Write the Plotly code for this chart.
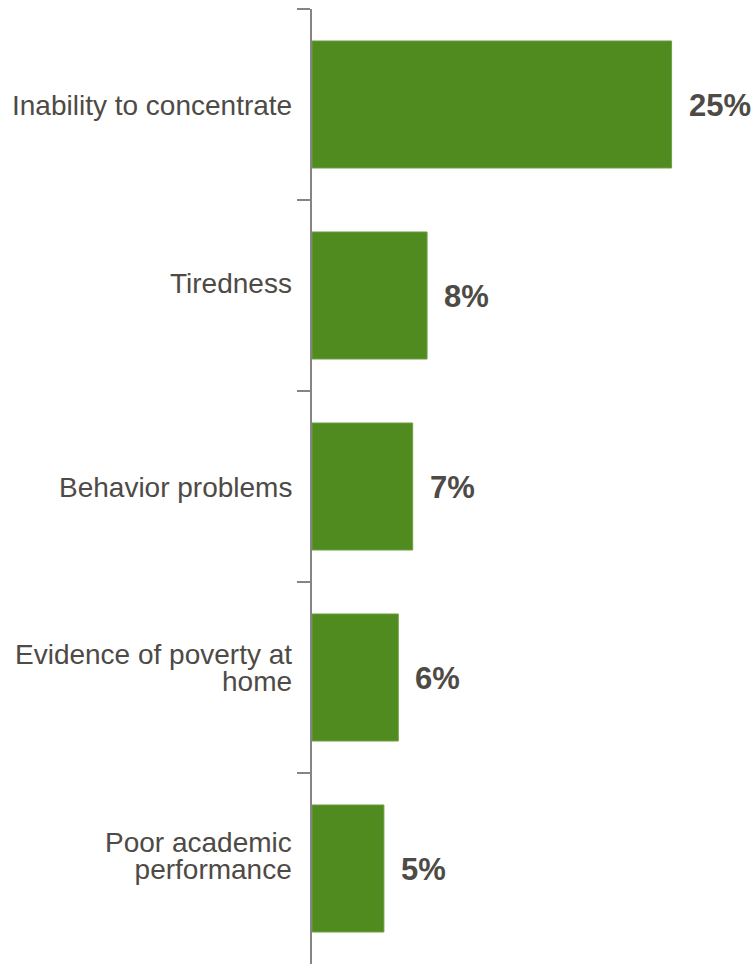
import plotly.graph_objects as go

categories = ["Inability to concentrate", "Tiredness", "Behavior problems",
              "Evidence of poverty at<br>home", "Poor academic<br>performance"]
values = [25, 8, 7, 6, 5]
value_labels = ["25%", "8%", "7%", "6%", "5%"]

bar_color = "#4F8B1F"
text_color = "#4E4A45"
axis_color = "#858585"
FONT = "Liberation Sans, Arial"

fig = go.Figure()
fig.add_trace(go.Bar(
    x=values, y=categories, orientation="h",
    marker=dict(color=bar_color, line=dict(color="#6E9F45", width=1)),
    hoverinfo="skip",
))

# value labels
for v, c, t in zip(values, categories, value_labels):
    fig.add_annotation(x=v, y=c, text="<b>%s</b>" % t, showarrow=False,
                       xanchor="left", yanchor="middle", xshift=15, yshift=-1,
                       font=dict(family=FONT, size=31, color=text_color))

# category labels: base font 21px gives the tight line pitch, spans render at 28px
label_nudge = {1: 13, 4: 3}  # extra upward shifts seen in the reference
for i, c in enumerate(categories):
    lines = c.split("<br>")
    base = label_nudge.get(i, 0)
    text = "<br>".join("<span style='font-size:28px'>%s</span>" % ln for ln in lines)
    ys = base - 1 if len(lines) == 1 else base + 10
    fig.add_annotation(x=0, xref="paper", y=c, yref="y", text=text,
                       showarrow=False, xanchor="right", yanchor="middle", align="right",
                       xshift=-18, yshift=ys,
                       font=dict(family=FONT, size=21, color=text_color))

fig.update_layout(
    width=755, height=964,
    margin=dict(l=312, r=0, t=9, b=0),
    paper_bgcolor="white", plot_bgcolor="white",
    bargap=0.335,
    showlegend=False,
    font=dict(family=FONT, size=28, color=text_color),
)
fig.update_xaxes(range=[0, 30.8], visible=False, showgrid=False, zeroline=False)
fig.update_yaxes(
    autorange="reversed", showgrid=False, zeroline=False,
    showline=True, linecolor=axis_color, linewidth=2,
    ticks="outside", tickson="boundaries", ticklen=13, tickwidth=2, tickcolor=axis_color,
    showticklabels=False,
)

fig.write_html("out.html")
